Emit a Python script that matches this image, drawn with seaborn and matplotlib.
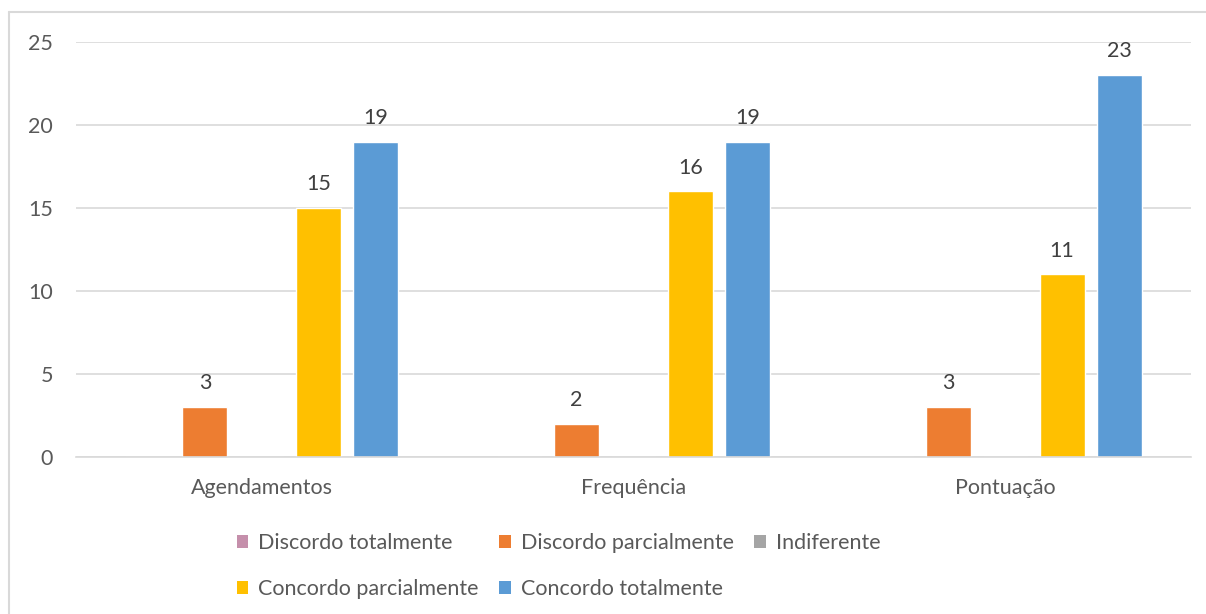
import matplotlib
matplotlib.use("Agg")
import matplotlib.pyplot as plt
import seaborn as sns
import pandas as pd
from matplotlib.lines import Line2D
from matplotlib.patches import Patch

categories = ["Agendamentos", "Frequência", "Pontuação"]
series = ["Discordo totalmente", "Discordo parcialmente", "Indiferente",
          "Concordo parcialmente", "Concordo totalmente"]
discordo_totalmente = [0, 0, 0]
discordo_parcialmente = [3, 2, 3]
indiferente = [0, 0, 0]
concordo_parcialmente = [15, 16, 11]
concordo_totalmente = [19, 19, 23]
yticks = [0, 5, 10, 15, 20, 25]

colors = ["#C58FAB", "#ED7D31", "#A5A5A5", "#FFC000", "#5B9BD5"]

values = [discordo_totalmente, discordo_parcialmente, indiferente,
          concordo_parcialmente, concordo_totalmente]
rows = []
for s, vals in zip(series, values):
    for c, v in zip(categories, vals):
        rows.append({"cat": c, "serie": s, "valor": v})
df = pd.DataFrame(rows)

sns.set_theme(style="white")
plt.rcParams['font.family'] = ['Lato', 'DejaVu Sans']

FS = 15.5
fig = plt.figure(figsize=(12.06, 6.14), dpi=100)
ax = fig.add_axes([76/1206, 1-457/614, (1191-76)/1206, (457-42)/614])

sns.barplot(data=df, x="cat", y="valor", hue="serie", hue_order=series,
            order=categories, palette=colors, width=0.766, gap=0.21,
            ax=ax, legend=False, saturation=1)

for cont in ax.containers:
    labels = [f"{int(b.get_height())}" if b.get_height() > 0 else "" for b in cont]
    ax.bar_label(cont, labels=labels, padding=10, fontsize=FS, color="#404040")

ax.set_ylim(0, 25)
ax.set_xlim(-0.5, 2.5)
ax.set_yticks(yticks)
ax.yaxis.grid(True, color="#D9D9D9", linewidth=1.2)
ax.set_axisbelow(True)
for sp in ["top", "right", "left"]:
    ax.spines[sp].set_visible(False)
ax.spines["bottom"].set_color("#D9D9D9")
ax.spines["bottom"].set_linewidth(1.2)
ax.tick_params(axis="both", length=0, labelsize=FS, colors="#595959")
ax.tick_params(axis="y", pad=16.5)
ax.tick_params(axis="x", pad=15)
ax.set_xlabel("")
ax.set_ylabel("")

handles = [Patch(facecolor=c, edgecolor="none") for c in colors]
order = [0, 3, 1, 4, 2]
leg = fig.legend([handles[i] for i in order], [series[i] for i in order],
                 loc="center", bbox_to_anchor=(0.463, 1-566/614), ncol=3,
                 frameon=False, fontsize=FS, handlelength=0.55, handleheight=0.55,
                 handletextpad=0.45, columnspacing=0.95, labelspacing=1.2,
                 labelcolor="#595959")

fig.add_artist(Line2D([9/1206, 1], [1-12/614, 1-12/614], color="#D9D9D9", lw=1.5,
                      transform=fig.transFigure))
fig.add_artist(Line2D([9/1206, 9/1206], [0, 1-12/614], color="#D9D9D9", lw=1.5,
                      transform=fig.transFigure))

fig.savefig("out.png", dpi=100, facecolor="white")
